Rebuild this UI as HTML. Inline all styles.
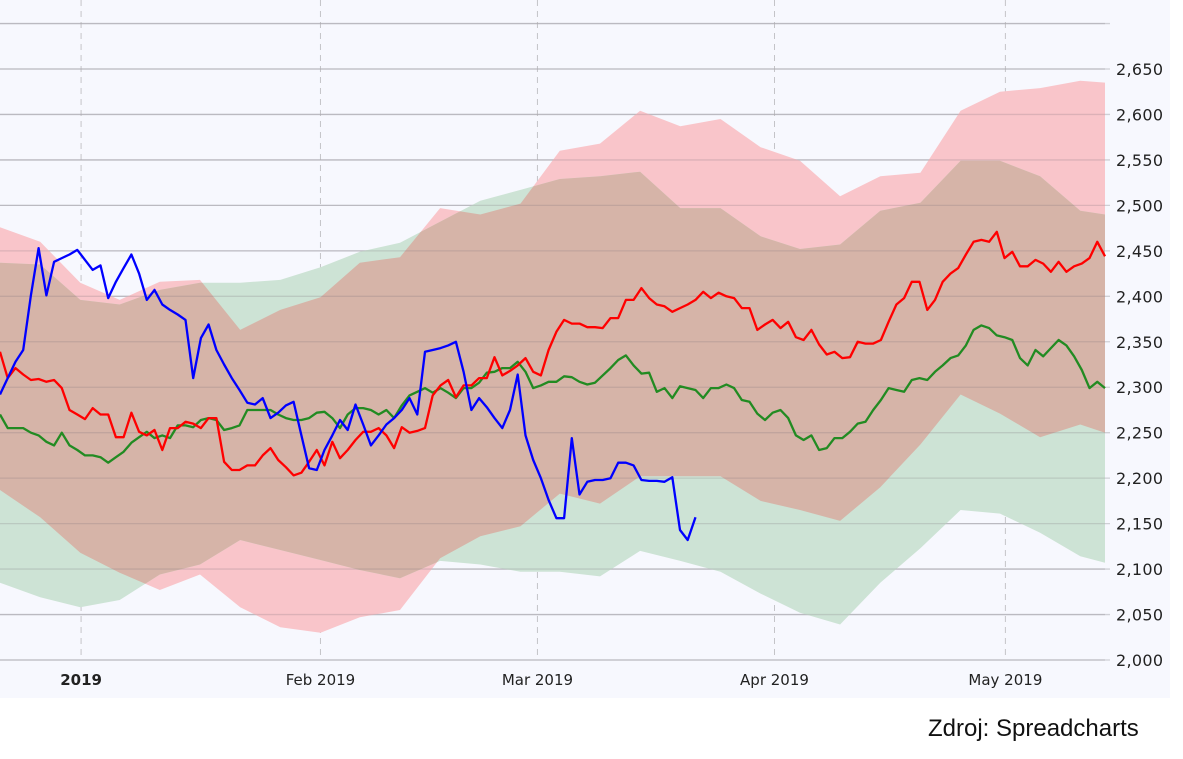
<!DOCTYPE html>
<html><head><meta charset="utf-8"><style>
html,body{margin:0;padding:0;background:#fff;}
svg{display:block;}
.yl{font-family:"DejaVu Sans","Liberation Sans",sans-serif;font-size:16px;fill:#222;letter-spacing:0.3px;}
.xl{font-family:"DejaVu Sans","Liberation Sans",sans-serif;font-size:15px;fill:#222;}
</style></head><body>
<svg id="chart" width="1183" height="759" viewBox="0 0 1183 759" xmlns="http://www.w3.org/2000/svg">
<rect x="0" y="0" width="1170" height="698" fill="#f7f8fe"/>
<defs><clipPath id="gclip"><path id="gclipPath"/></clipPath></defs>
<g id="grid"></g>
<g id="bands"></g>
<g id="lines"></g>
<g id="axes"></g>
<text x="928" y="736" font-family="'Liberation Sans',sans-serif" font-size="24" fill="#111">Zdroj: Spreadcharts</text>
</svg>
<script>
const yTicks=[2000,2050,2100,2150,2200,2250,2300,2350,2400,2450,2500,2550,2600,2650,2700];
const monthDays=[10.5,41.5,69.6,100.3,130.2];
const monthLabels=["2019","Feb 2019","Mar 2019","Apr 2019","May 2019"];
const bandDays=[0,5.2,10.4,15.5,20.7,25.9,31.1,36.3,41.5,46.6,51.8,57,62.2,67.4,72.5,77.7,82.9,88.1,93.3,98.5,103.6,108.8,114,119.2,124.4,129.5,134.7,139.9,143.1];
const pinkUpper=[2476,2460,2415,2396,2416,2418,2363,2385,2399,2437,2443,2497,2490,2502,2560,2568,2604,2587,2595,2564,2549,2510,2532,2536,2604,2625,2629,2637,2635];
const pinkLower=[2187,2157,2118,2096,2077,2094,2058,2036,2030,2047,2055,2112,2136,2147,2183,2172,2202,2202,2202,2175,2165,2153,2190,2237,2292,2271,2245,2259,2250];
const greenUpper=[2437,2435,2396,2391,2407,2415,2415,2418,2432,2449,2459,2482,2505,2517,2529,2532,2537,2497,2497,2466,2452,2457,2494,2503,2549,2549,2532,2494,2490];
const greenLower=[2085,2069,2058,2066,2094,2105,2132,2121,2110,2099,2090,2109,2105,2097,2097,2092,2120,2109,2097,2073,2052,2039,2085,2123,2165,2161,2140,2114,2107];
const redSeries=[2339,2310,2321,2314,2308,2309,2306,2308,2299,2275,2270,2265,2277,2270,2270,2245,2245,2272,2251,2247,2253,2231,2255,2255,2262,2260,2255,2266,2266,2218,2209,2209,2214,2214,2225,2233,2220,2212,2203,2206,2218,2231,2214,2240,2222,2231,2242,2251,2251,2255,2247,2233,2256,2250,2252,2255,2291,2302,2308,2289,2302,2302,2310,2310,2333,2313,2318,2324,2332,2317,2313,2341,2361,2374,2370,2370,2366,2366,2365,2376,2376,2396,2396,2409,2398,2391,2389,2383,2387,2391,2396,2405,2398,2404,2400,2398,2387,2387,2363,2369,2374,2365,2372,2355,2352,2363,2347,2336,2339,2332,2333,2350,2348,2348,2352,2372,2391,2398,2416,2416,2385,2396,2416,2425,2431,2446,2460,2462,2460,2471,2442,2449,2433,2433,2440,2436,2427,2438,2427,2433,2436,2442,2460,2444];
const greenSeries=[2270,2255,2255,2255,2250,2247,2240,2236,2250,2236,2231,2225,2225,2223,2217,2223,2229,2239,2245,2251,2244,2247,2244,2258,2258,2256,2264,2266,2264,2253,2255,2258,2275,2275,2275,2275,2270,2266,2264,2264,2266,2272,2273,2266,2255,2270,2277,2277,2275,2270,2275,2266,2280,2291,2295,2299,2294,2299,2294,2288,2299,2299,2305,2316,2317,2321,2321,2328,2317,2299,2302,2306,2306,2312,2311,2306,2303,2305,2313,2321,2330,2335,2324,2315,2316,2295,2299,2288,2301,2299,2297,2288,2299,2299,2303,2299,2286,2284,2271,2264,2272,2275,2266,2247,2242,2247,2231,2233,2244,2244,2251,2260,2262,2275,2286,2299,2297,2295,2308,2310,2308,2317,2324,2332,2335,2346,2363,2368,2365,2357,2355,2352,2332,2324,2341,2334,2343,2352,2346,2334,2319,2299,2306,2299];
const blueSeries=[2292,2310,2328,2341,2401,2453,2401,2438,2442,2446,2451,2440,2429,2434,2398,2416,2431,2446,2425,2396,2407,2391,2385,2380,2374,2310,2354,2369,2341,2325,2310,2297,2283,2281,2288,2266,2272,2280,2284,2247,2211,2209,2231,2247,2264,2253,2281,2259,2236,2247,2259,2266,2275,2288,2270,2339,2341,2343,2346,2350,2317,2275,2288,2278,2266,2255,2275,2314,2247,2220,2200,2176,2156,2156,2244,2182,2196,2198,2198,2200,2217,2217,2214,2198,2197,2197,2196,2201,2143,2132,2157];

const X0=0,X1=1105,D0=0,D1=143.1;
function xs(d){return X0+(d-D0)*(X1-X0)/(D1-D0);}
function ys(v){return 660-(v-2000)*(660-69)/650;}
const NS="http://www.w3.org/2000/svg";
function mk(tag,attrs,parent){const e=document.createElementNS(NS,tag);for(const k in attrs)e.setAttribute(k,attrs[k]);parent.appendChild(e);return e;}
const grid=document.getElementById('grid'),bands=document.getElementById('bands'),lines=document.getElementById('lines'),axes=document.getElementById('axes');

yTicks.forEach(v=>{
  const l=mk('line',{x1:0,x2:1110,y1:ys(v),y2:ys(v),stroke:'#cfd0d6','stroke-width':1.3},grid);
  
  
  if(v<2700){
    const t=mk('text',{x:1116,y:ys(v)+6,class:'yl'},axes);
    t.textContent=v.toLocaleString('en-US');
    
    
  }
});
monthDays.forEach((d,i)=>{
  const l=mk('line',{x1:xs(d),x2:xs(d),y1:0,y2:660,stroke:'#c4c4c8','stroke-width':1,'stroke-dasharray':'6,5'},grid);
  
  
  const t=mk('text',{x:xs(d),y:685,'text-anchor':'middle',class:'xl'},axes);
  t.textContent=monthLabels[i];
  if(i===0){t.setAttribute('font-weight','bold');t.setAttribute('font-family','"Liberation Serif",serif');t.setAttribute('font-size','17');}
  
  
});

function areaPath(up,lo){
  let p='';
  up.forEach((v,i)=>{p+=(i?'L':'M')+xs(bandDays[i]).toFixed(1)+','+ys(v).toFixed(1);});
  for(let i=lo.length-1;i>=0;i--)p+='L'+xs(bandDays[i]).toFixed(1)+','+ys(lo[i]).toFixed(1);
  return p+'Z';
}
const pinkD=areaPath(pinkUpper,pinkLower),greenD=areaPath(greenUpper,greenLower);
document.getElementById('gclipPath').setAttribute('d',greenD);
const pa=mk('path',{d:pinkD,fill:'#f9c5ca'},bands);


const ga=mk('path',{d:greenD,fill:'#cde3d5'},bands);


const ov=mk('path',{d:pinkD,fill:'#d6b4a8','clip-path':'url(#gclip)'},bands);


yTicks.forEach(v=>{
  const l=mk('line',{x1:0,x2:1105,y1:ys(v),y2:ys(v),stroke:'rgba(120,110,120,0.22)','stroke-width':1.3},bands);
  
  
});

const step=D1/(redSeries.length-1);
function linePath(arr){return arr.map((v,i)=>(i?'L':'M')+xs(i*step).toFixed(1)+','+ys(v).toFixed(1)).join('');}
[[greenSeries,'#228b22','green-line'],[redSeries,'#ff0000','red-line'],[blueSeries,'#0000ff','blue-line']].forEach(s=>{
  const p=mk('path',{d:linePath(s[0]),fill:'none',stroke:s[1],'stroke-width':2.3,'stroke-linejoin':'round'},lines);
  
  
});
</script>
</body></html>
